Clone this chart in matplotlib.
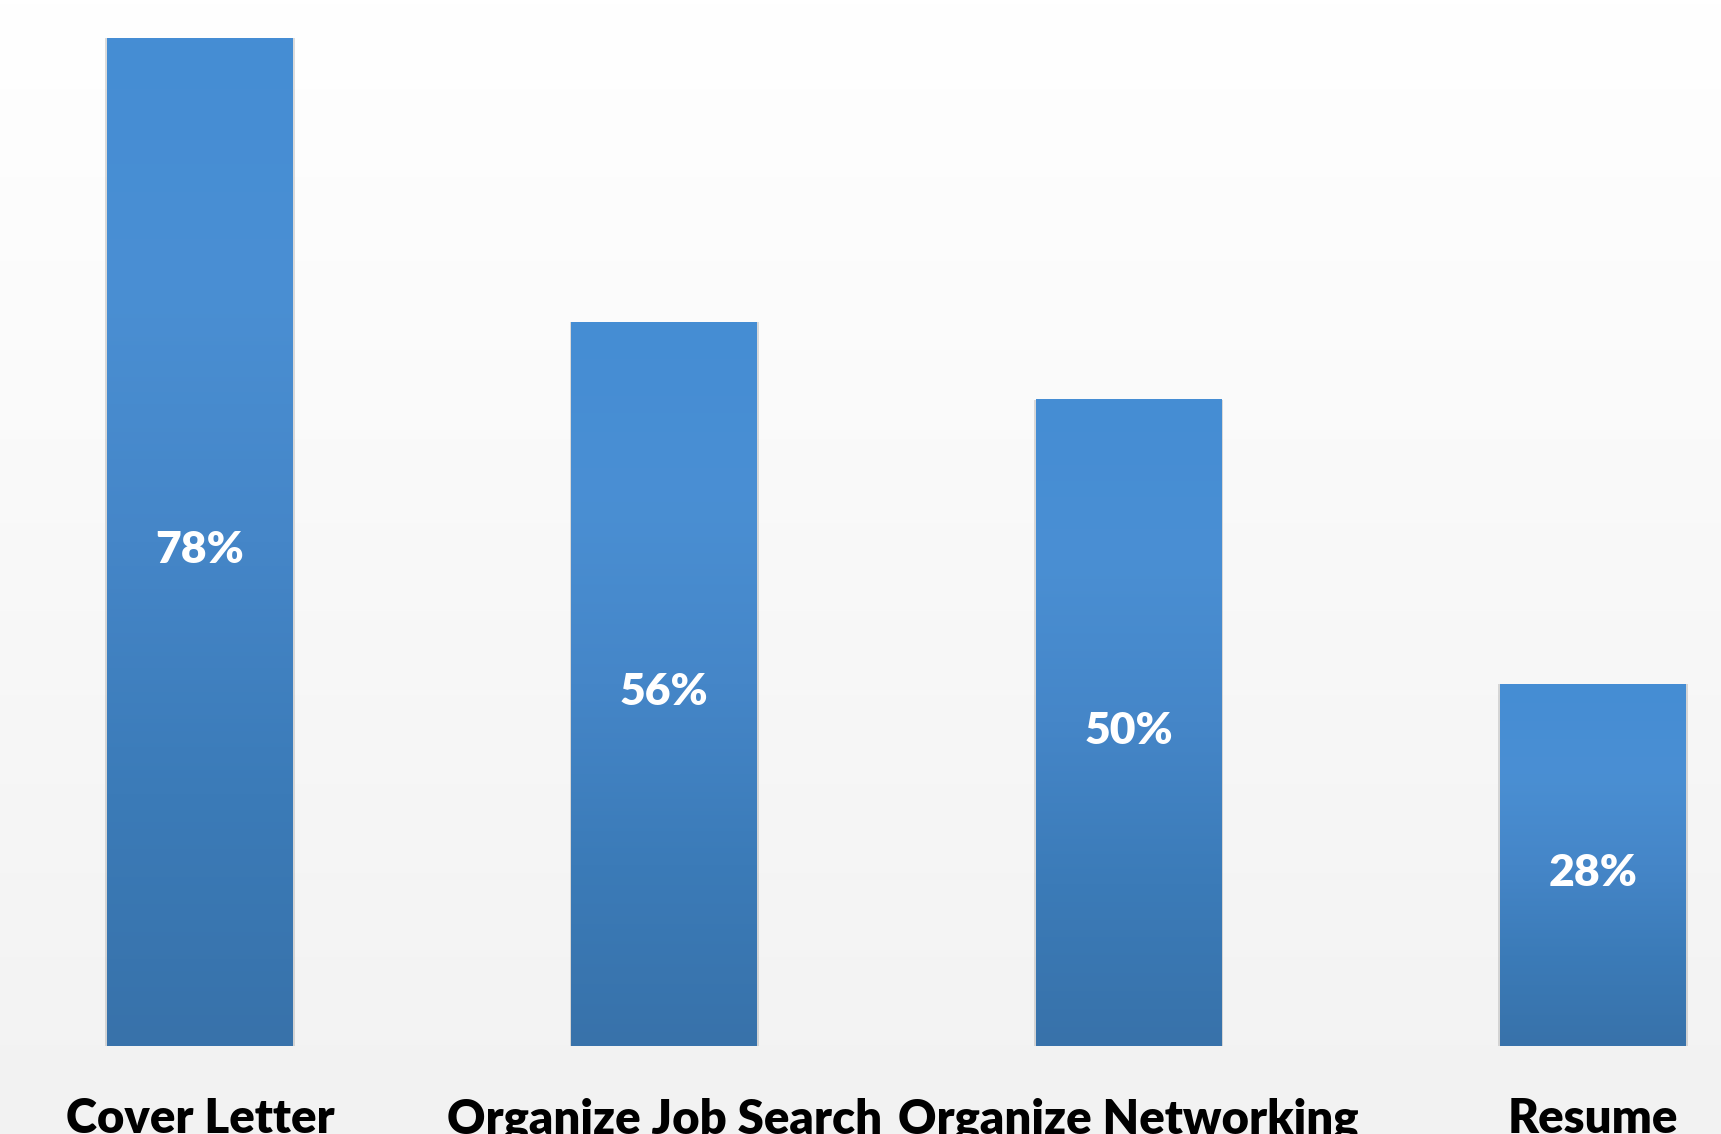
import numpy as np
import matplotlib.pyplot as plt
from matplotlib.colors import LinearSegmentedColormap

categories = ["Cover Letter", "Organize Job Search", "Organize Networking", "Resume"]
values = [78, 56, 50, 28]
value_labels = ["78%", "56%", "50%", "28%"]

plt.rcParams["font.family"] = ["Lato", "DejaVu Sans"]

fig = plt.figure(figsize=(17.21, 11.34), dpi=100)
ax = fig.add_axes([0, 0, 1, 1])
ax.set_xlim(-0.4308, 3.276)
ax.set_ylim(-6.81, 80.96)
ax.axis("off")

# page background: white at top fading to light grey
bg_cmap = LinearSegmentedColormap.from_list("bg", ["#f2f2f2", "#ffffff"])
grad = np.linspace(0, 1, 256).reshape(-1, 1)
ax.imshow(grad, cmap=bg_cmap, extent=[*ax.get_xlim(), *ax.get_ylim()],
          origin="lower", aspect="auto", zorder=0)

x = np.arange(len(categories))
width = 0.4

# soft shadow behind the bars
ax.bar(x, values, width=width + 0.008, color="#9a9a9a", alpha=0.35, zorder=1)

bars = ax.bar(x, values, width=width, color="#4080c0", zorder=2)

bar_cmap = LinearSegmentedColormap.from_list(
    "bar", ["#3872aa", "#3b7bb8", "#4586c8", "#4a8fd3", "#458dd4"])
for bar in bars:
    x0, y0 = bar.get_x(), bar.get_y()
    w, h = bar.get_width(), bar.get_height()
    ax.imshow(grad, cmap=bar_cmap, extent=[x0, x0 + w, y0, y0 + h],
              origin="lower", aspect="auto", zorder=3)

for xi, v, lab in zip(x, values, value_labels):
    ax.text(xi, v / 2 - 0.6, lab, ha="center", va="center", color="white",
            fontsize=32, fontweight="heavy", zorder=4)

for xi, cat in zip(x, categories):
    ax.text(xi, -6.75, cat, ha="center", va="baseline", color="black",
            fontsize=34, fontweight="heavy", zorder=4, clip_on=False)

ax.set_xlim(-0.4308, 3.276)
ax.set_ylim(-6.81, 80.96)

fig.savefig("out.png", dpi=100)
